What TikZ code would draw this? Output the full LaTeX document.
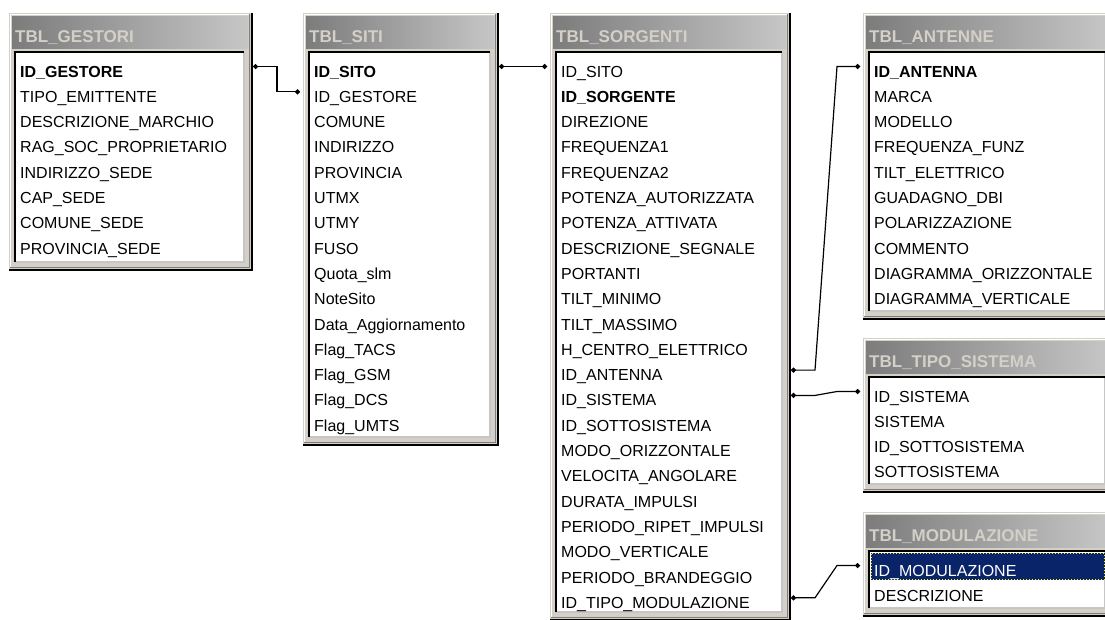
\documentclass[tikz, border = 0pt]{standalone}
\usepackage{fontspec}
\setmainfont{Liberation Sans}
\usetikzlibrary{arrows.meta}

\definecolor{face}{HTML}{D4D0C8}
\definecolor{captiondark}{HTML}{7C7C7C}
\definecolor{captionlight}{HTML}{C6C6C6}
\definecolor{selection}{HTML}{0A246A}

\begin{document}
\begin{tikzpicture}[x = 1pt, y = -1pt,
	field/.style = {anchor = base west, inner sep = 0pt, text height = 21pt, text depth = 0pt, font = \fontsize{16}{18}\selectfont},
	caption/.style = {anchor = base west, inner sep = 0pt, text = face, font = \fontsize{17}{19}\selectfont\bfseries},
	link/.style = {line width = 1.2pt, {Circle[length = 5pt]}-{Circle[length = 5pt]}}]

	% Screen area

	\clip (0, 0) rectangle (1105, 619);
	\fill [white] (0, 0) rectangle (1105, 619);

	% Table windows

	\foreach \name/\tabtitle/\lx/\ty/\rx/\by in {gestori/TBL\_GESTORI/9/13/252/270, siti/TBL\_SITI/303/13/498/445, sorgenti/TBL\_SORGENTI/550/13/790/620, antenne/TBL\_ANTENNE/863/13/1113/319, tipo/TBL\_TIPO\_SISTEMA/863/338/1113/492, modul/TBL\_MODULAZIONE/863/512/1113/616}
	{

		% Window face with raised edges

		\fill [face] (\lx, \ty) rectangle (\rx, \by);
		\draw [white, line width = 1pt] ({\lx + 1.5}, {\by - 2}) -- ({\lx + 1.5}, {\ty + 1.5}) -- ({\rx - 2}, {\ty + 1.5});
		\draw [captiondark, line width = 1pt] ({\lx + 1}, {\by - 2.5}) -- ({\rx - 2.5}, {\by - 2.5}) -- ({\rx - 2.5}, {\ty + 1});
		\draw [black, line width = 1.5pt] (\lx, \by) -- (\rx, \by) -- (\rx, \ty);

		% Caption bar

		\shade [left color = captiondark, right color = captionlight] ({\lx + 3}, {\ty + 3}) rectangle ({\rx - 4}, {\ty + 35});
		\node [caption] (\name-caption) at ({\lx + 6}, {\ty + 29}) {\tabtitle};

		% Sunken list box

		\fill [white] ({\lx + 6}, {\ty + 39}) rectangle ({\rx - 8}, {\by - 8});
		\draw [captionlight, line width = 1.5pt] ({\lx + 6}, {\by - 8}) -- ({\rx - 8}, {\by - 8}) -- ({\rx - 8}, {\ty + 39});
		\draw [black, line width = 1.5pt] ({\lx + 6}, {\by - 8}) -- ({\lx + 6}, {\ty + 39}) -- ({\rx - 8}, {\ty + 39});

		% Link ends

		\coordinate (\name-west) at ({\lx - 3}, \ty);
		\coordinate (\name-lead) at ({\lx - 26}, \ty);
		\coordinate (\name-east) at ({\rx + 1}, \ty);
	}

	% Selected row

	\fill [selection] (871, 553) rectangle (1106, 580);
	\draw [yellow, dotted, line width = 1pt] (871.5, 553.5) rectangle (1104, 579.5);

	% Field names

	\foreach \name/\lx/\ty/\fields in {
		gestori/9/13/{\textbf{ID\_GESTORE}, TIPO\_EMITTENTE, DESCRIZIONE\_MARCHIO, RAG\_SOC\_PROPRIETARIO, INDIRIZZO\_SEDE, CAP\_SEDE, COMUNE\_SEDE, PROVINCIA\_SEDE},
		siti/303/13/{\textbf{ID\_SITO}, ID\_GESTORE, COMUNE, INDIRIZZO, PROVINCIA, UTMX, UTMY, FUSO, Quota\_slm, NoteSito, Data\_Aggiornamento, Flag\_TACS, Flag\_GSM, Flag\_DCS, Flag\_UMTS},
		sorgenti/550/13/{ID\_SITO, \textbf{ID\_SORGENTE}, DIREZIONE, FREQUENZA1, FREQUENZA2, POTENZA\_AUTORIZZATA, POTENZA\_ATTIVATA, DESCRIZIONE\_SEGNALE, PORTANTI, TILT\_MINIMO, TILT\_MASSIMO, H\_CENTRO\_ELETTRICO, ID\_ANTENNA, ID\_SISTEMA, ID\_SOTTOSISTEMA, MODO\_ORIZZONTALE, VELOCITA\_ANGOLARE, DURATA\_IMPULSI, PERIODO\_RIPET\_IMPULSI, MODO\_VERTICALE, PERIODO\_BRANDEGGIO, ID\_TIPO\_MODULAZIONE},
		antenne/863/13/{\textbf{ID\_ANTENNA}, MARCA, MODELLO, FREQUENZA\_FUNZ, TILT\_ELETTRICO, GUADAGNO\_DBI, POLARIZZAZIONE, COMMENTO, DIAGRAMMA\_ORIZZONTALE, DIAGRAMMA\_VERTICALE},
		tipo/863/338/{ID\_SISTEMA, SISTEMA, ID\_SOTTOSISTEMA, SOTTOSISTEMA},
		modul/863/512/{\textcolor{white}{ID\_MODULAZIONE}, DESCRIZIONE}}
	{
		\foreach \field [count = \i] in \fields
		{
			\node [field] (\name-\i) at ({\lx + 11}, {\ty + 64 + (\i - 1) * 25.3}) {\field};
		}
	}

	% Relationships

	\draw [link] (gestori-1 -| gestori-east) -- ++(24, 0) |- (siti-2 -| siti-west);
	\draw [link] (siti-1 -| siti-east) -- (sorgenti-1 -| sorgenti-west);
	\draw [link] (sorgenti-13 -| sorgenti-east) -- ++(24, 0) -- (antenne-1 -| antenne-lead) -- (antenne-1 -| antenne-west);
	\draw [link] (sorgenti-14 -| sorgenti-east) -- ++(24, 0) -- (tipo-1 -| tipo-lead) -- (tipo-1 -| tipo-west);
	\draw [link] (sorgenti-22 -| sorgenti-east) -- ++(24, 0) -- (modul-1 -| modul-lead) -- (modul-1 -| modul-west);

\end{tikzpicture}
\end{document}
